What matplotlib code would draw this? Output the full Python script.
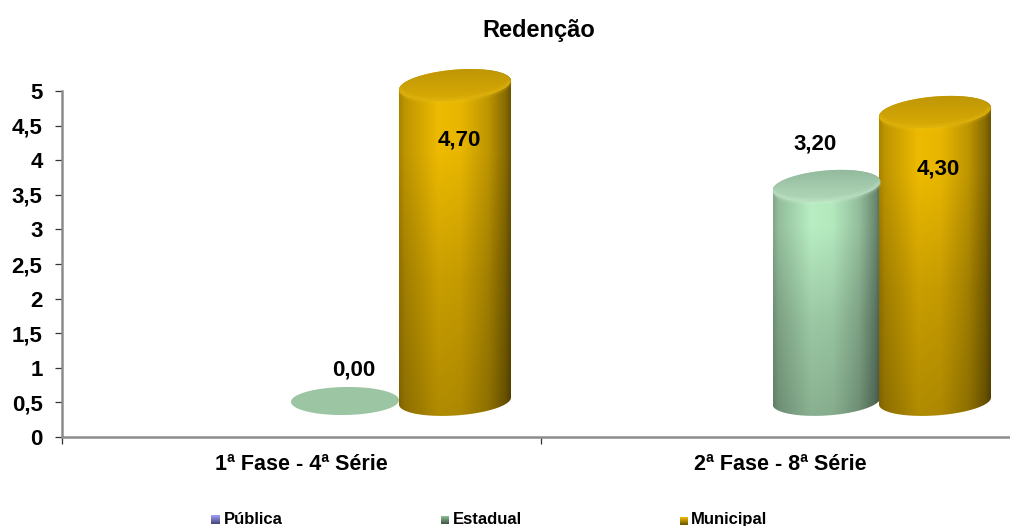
import numpy as np
import matplotlib
matplotlib.use('Agg')
import matplotlib.pyplot as plt
from matplotlib.patches import Polygon

plt.rcParams['font.family'] = ['Liberation Sans', 'DejaVu Sans']
plt.rcParams['font.weight'] = 'bold'

categories = ['1ª Fase - 4ª Série', '2ª Fase - 8ª Série']
series = ['Pública', 'Estadual', 'Municipal']
estadual = [0.00, 3.20]
municipal = [4.70, 4.30]
y_ticks = [0, 0.5, 1, 1.5, 2, 2.5, 3, 3.5, 4, 4.5, 5]
y_labels = ['0', '0,5', '1', '1,5', '2', '2,5', '3', '3,5', '4', '4,5', '5']

W, H = 1010, 526
fig = plt.figure(figsize=(W / 100, H / 100), dpi=100)
fig.patch.set_facecolor('white')

# main axes, pixel box of the plot area
L, R, T, B = 62, 1010, 91, 437
ax = fig.add_axes([L / W, 1 - B / H, (R - L) / W, (B - T) / H])
ax.set_ylim(0, 5)
ax.set_yticks(y_ticks)
ax.set_yticklabels(y_labels, fontsize=16, fontweight='bold')
ax.set_xticks([0, 1])
ax.set_xticklabels(['', ''])
ax.set_xlim(0, (R - L) / 479)
ax.tick_params(axis='both', length=5, width=0.9, color='#333333')
ax.tick_params(axis='y', pad=9)
for s in ['top', 'right']:
    ax.spines[s].set_visible(False)
for s in ['left', 'bottom']:
    ax.spines[s].set_color('#8c8c8c')
    ax.spines[s].set_linewidth(1.8)
for i, c in enumerate(categories):
    ax.text(i + 0.5, -0.4, c, ha='center', va='center', fontsize=15.5, fontweight='bold')

# cylinders sit on their own scale, the base floats above the axis (fake 3d)
T2 = 40
base_px, unit_px = 401, 67.2
ov = fig.add_axes([L / W, 1 - B / H, (R - L) / W, (B - T2) / H])
ov.axis('off')
ov.patch.set_alpha(0)

gold_hw = 56 / 479
green_hw = 54 / 479
rad_top = 15.5 / unit_px
rad_base = 14.5 / unit_px
tilt_top = 4.5 / 56 * (479 / unit_px)
tilt_base = 3.5 / 56 * (479 / unit_px)


def ell(cx, cy, hw, ry, tilt, a, b):
    t = np.linspace(a, b, 90)
    dx = hw * np.cos(t)
    return cx + dx, cy + ry * np.sin(t) + tilt * dx


def shade(base, ny=300, nx=220):
    u = np.linspace(-1, 1, nx)
    v = np.linspace(0, 1, ny)
    lum = np.interp(u, [-1, -0.9, -0.3, 0.1, 0.6, 0.9, 1], [0.70, 0.80, 1.0, 0.98, 0.80, 0.58, 0.45])
    vert = np.interp(v, [0, 0.25, 0.6, 1], [1.0, 1.0, 0.85, 0.74])
    m = vert[:, None] * lum[None, :]
    return np.clip(m[:, :, None] * np.array(base)[None, None, :], 0, 1)


def cylinder(cx, val, hw, base, cap, rim):
    x0, y0 = ell(cx, 0, hw, rad_base, tilt_base, np.pi, 2 * np.pi)
    x1, y1 = ell(cx, val, hw, rad_top, tilt_top, 0, np.pi)
    body = Polygon(np.column_stack([np.r_[x0, x1], np.r_[y0, y1]]), closed=True,
                   transform=ov.transData, fc='none', ec='none')
    ov.add_patch(body)
    im = ov.imshow(shade(base), extent=[cx - hw, cx + hw, -rad_base * 1.4, val + rad_top * 1.5],
                   aspect='auto', origin='upper', zorder=2, interpolation='bilinear')
    im.set_clip_path(body)
    # top face
    xt, yt = ell(cx, val, hw, rad_top, tilt_top, 0, 2 * np.pi)
    top = Polygon(np.column_stack([xt, yt]), closed=True, transform=ov.transData, fc='none', ec='none')
    ov.add_patch(top)
    g = np.linspace(0, 1, 60)[:, None, None] * np.ones((60, 60, 3))
    cap_img = np.array(cap[0]) + (np.array(cap[1]) - np.array(cap[0])) * g
    im2 = ov.imshow(cap_img, extent=[cx - hw, cx + hw, val - rad_top * 1.5, val + rad_top * 1.5],
                    aspect='auto', origin='upper', zorder=3, interpolation='bilinear')
    im2.set_clip_path(top)
    # soft light rim round the front of the top
    xr, yr = ell(cx, val, hw * 0.97, rad_top * 0.97, tilt_top, np.pi * 1.04, np.pi * 1.96)
    for lw in [5, 3.2, 1.6]:
        ov.plot(xr, yr, color=rim, lw=lw, alpha=0.10, zorder=4, solid_capstyle='round')


gold = ((0.93, 0.73, 0.0), ((0.72, 0.57, 0.02), (0.88, 0.69, 0.02)), '#efc81e')
green = ((0.72, 0.93, 0.76), ((0.55, 0.70, 0.59), (0.72, 0.88, 0.75)), '#d8f4dc')

x_est = [(345 - L) / 479, (826.5 - L) / 479]
x_mun = [(455 - L) / 479, (935 - L) / 479]

# zero value is only a flat disc
xf, yf = ell(x_est[0], estadual[0], 54 / 479, 14 / unit_px, 0.25 * tilt_base, 0, 2 * np.pi)
ov.add_patch(Polygon(np.column_stack([xf, yf]), closed=True, fc='#9cc5a3', ec='none', zorder=2))

cylinder(x_est[1], estadual[1], green_hw, green[0], green[1], green[2])
cylinder(x_mun[0], municipal[0], gold_hw, gold[0], gold[1], gold[2])
cylinder(x_mun[1], municipal[1], gold_hw, gold[0], gold[1], gold[2])
ov.set_xlim(ax.get_xlim())
ov.set_ylim((base_px - B) / unit_px, (base_px - T2) / unit_px)

# data labels
lab_x = [354, 459, 815, 938]
lab_y = [370, 140, 144, 169]
lab_v = [estadual[0], municipal[0], estadual[1], municipal[1]]
for x, y, v in zip(lab_x, lab_y, lab_v):
    fig.text(x / W, 1 - y / H, ('%.2f' % v).replace('.', ','), ha='center', va='center', fontsize=16,
             fontweight='bold', color='black', zorder=10)

fig.text(539 / W, 1 - 30 / H, 'Redenção', ha='center', va='center', fontsize=17, fontweight='bold')

# legend
leg_x = [211, 441, 680]
leg_y = [524, 524, 525]
leg_s = [9, 8, 8]
leg_t = [224, 453, 691]
leg_c = [(0.62, 0.62, 1.0), (0.55, 0.75, 0.58), (0.93, 0.73, 0.0)]
for x, y, sz, tx, c, s in zip(leg_x, leg_y, leg_s, leg_t, leg_c, series):
    a = fig.add_axes([x / W, 1 - y / H, sz / W, sz / H])
    g = np.linspace(1, 0.45, 16)[:, None, None] * np.array(c)[None, None, :] * np.ones((16, 16, 3))
    a.imshow(g, aspect='auto')
    a.axis('off')
    fig.text(tx / W, 1 - 524 / H, s, ha='left', va='baseline', fontsize=12, fontweight='bold')

fig.savefig('out.png', dpi=100)
